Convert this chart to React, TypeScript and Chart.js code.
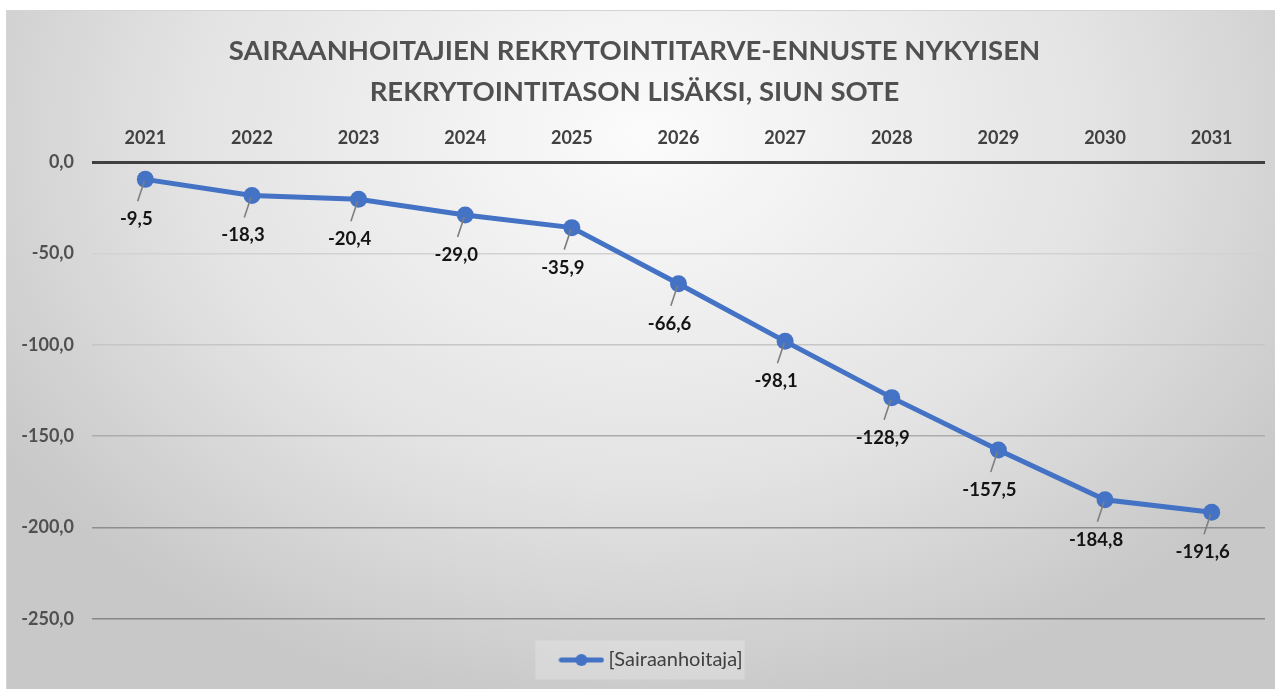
import React, { useEffect, useRef } from "react";
import { Chart, registerables } from "chart.js";

Chart.register(...registerables);

const titleLines = ["SAIRAANHOITAJIEN REKRYTOINTITARVE-ENNUSTE NYKYISEN", "REKRYTOINTITASON LISÄKSI, SIUN SOTE"];
const years = ["2021", "2022", "2023", "2024", "2025", "2026", "2027", "2028", "2029", "2030", "2031"];
const values = [-9.5, -18.3, -20.4, -29.0, -35.9, -66.6, -98.1, -128.9, -157.5, -184.8, -191.6];
const seriesName = "[Sairaanhoitaja]";
const yMin = -250;
const yMax = 0;
const yStep = 50;

const FONT = "Lato, 'Open Sans', sans-serif";
const BLUE = "#4472c4";

const fmt = (v: number) => v.toFixed(1).replace(".", ",");

function makeLegendMarker(): HTMLCanvasElement {
  const c = document.createElement("canvas");
  c.width = 46;
  c.height = 14;
  const g = c.getContext("2d")!;
  g.strokeStyle = BLUE;
  g.lineWidth = 5;
  g.lineCap = "round";
  g.beginPath();
  g.moveTo(3, 7);
  g.lineTo(43, 7);
  g.stroke();
  g.fillStyle = BLUE;
  g.beginPath();
  g.arc(23, 7, 6, 0, Math.PI * 2);
  g.fill();
  return c;
}

const titlePlugin = {
  id: "customTitle",
  afterDraw(chart: any) {
    const ctx = chart.ctx;
    ctx.save();
    ctx.fillStyle = "#505050";
    ctx.font = `bold 27.5px ${FONT}`;
    ctx.textAlign = "center";
    ctx.textBaseline = "middle";
    const cx = chart.width / 2 - 3;
    titleLines.forEach((line, i) => ctx.fillText(line, cx, 51 + i * 41));
    ctx.restore();
  },
};

const legendShiftPlugin = {
  id: "legendShift",
  afterLayout(chart: any) {
    const lg = chart.legend;
    if (!lg) return;
    lg.left += 21;
    lg.right += 21;
  },
};

const legendBoxPlugin = {
  id: "legendBox",
  beforeDraw(chart: any) {
    const lg = chart.legend;
    if (!lg || !lg.legendHitBoxes || !lg.legendHitBoxes.length) return;
    const hb = lg.legendHitBoxes[0];
    const ctx = chart.ctx;
    ctx.save();
    ctx.fillStyle = "rgba(255,255,255,0.22)";
    const cy = hb.top + hb.height / 2;
    ctx.fillRect(hb.left - 29, cy - 19.5, hb.width + 31, 39);
    ctx.restore();
  },
};

const dataLabelPlugin = {
  id: "dataLabels",
  afterDatasetsDraw(chart: any) {
    const ctx = chart.ctx;
    const meta = chart.getDatasetMeta(0);
    ctx.save();
    meta.data.forEach((pt: any, i: number) => {
      const x = pt.x;
      const y = pt.y;
      const dx = -9;
      const dy = 40;
      ctx.strokeStyle = "#7f7f7f";
      ctx.lineWidth = 1.6;
      ctx.beginPath();
      ctx.moveTo(x - 1, y + 2);
      ctx.lineTo(x + dx * 0.85, y + dy - 18);
      ctx.stroke();
      ctx.fillStyle = "#141414";
      ctx.font = `bold 18.5px ${FONT}`;
      ctx.textAlign = "center";
      ctx.textBaseline = "middle";
      ctx.fillText(fmt(values[i]), x + dx, y + dy);
    });
    ctx.restore();
  },
};

const gridColors: Record<string, string> = {
  "0": "#404040",
  "-50": "#d2d2d2",
  "-100": "#c6c6c6",
  "-150": "#acacac",
  "-200": "#8e8e8e",
  "-250": "#878787",
};

export default function App() {
  const ref = useRef<HTMLCanvasElement>(null);

  useEffect(() => {
    document.body.style.margin = "0";
    const marker = makeLegendMarker();
    const chart = new Chart(ref.current!, {
      type: "line",
      data: {
        labels: years,
        datasets: [
          {
            label: seriesName,
            data: values,
            borderColor: BLUE,
            backgroundColor: BLUE,
            borderWidth: 5,
            pointRadius: 8.5,
            pointBackgroundColor: BLUE,
            pointBorderColor: BLUE,
            pointBorderWidth: 0,
            tension: 0,
            pointStyle: "circle",
          },
        ],
      },
      options: {
        animation: false,
        responsive: false,
        layout: { padding: { left: 0, right: 10, top: 122, bottom: 9 } },
        plugins: {
          title: { display: false },
          tooltip: { enabled: false },
          legend: {
            position: "bottom",
            labels: {
              usePointStyle: true,
              pointStyleWidth: 34,
              boxHeight: 14,
              padding: 31,
              color: "#404040",
              font: { family: FONT, size: 20 },
              generateLabels: (c: any) => [
                {
                  text: seriesName,
                  pointStyle: marker,
                  fillStyle: BLUE,
                  strokeStyle: BLUE,
                  lineWidth: 0,
                  datasetIndex: 0,
                  fontColor: "#404040",
                },
              ],
            },
          },
        },
        scales: {
          x: {
            position: "top",
            offset: true,
            grid: { display: false, drawTicks: false, offset: true },
            border: { display: false },
            ticks: {
              color: "#404040",
              font: { family: FONT, size: 18, weight: "bold" },
              padding: 13,
            },
            afterFit: (s: any) => {
              s.height = 40;
            },
          },
          y: {
            min: yMin,
            max: yMax,
            grid: {
              drawTicks: false,
              color: (c: any) => gridColors[String(c.tick?.value)] || "#c8c8c8",
              lineWidth: (c: any) => (c.tick?.value === 0 ? 3 : 1.5),
            },
            border: { display: false },
            ticks: {
              stepSize: yStep,
              padding: 18,
              color: "#505050",
              font: { family: FONT, size: 18, weight: "bold" },
              callback: (v: any) => fmt(Number(v)),
            },
            afterFit: (s: any) => {
              s.width = 92;
            },
          },
        },
      },
      plugins: [legendShiftPlugin, titlePlugin, legendBoxPlugin, dataLabelPlugin],
    });
    return () => chart.destroy();
  }, []);

  return (
    <div style={{ position: "fixed", left: 0, top: 0, width: 1275, height: 689, overflow: "hidden", background: "#ffffff" }}>
      <div
        style={{
          position: "absolute",
          left: 6,
          top: 10,
          width: 1275,
          height: 685,
          borderTop: "1px solid #d4d4d4",
          borderLeft: "1px solid #d4d4d4",
          background: "radial-gradient(ellipse 60% 85% at 50% 18%, #fbfbfb 0%, #e3e3e3 60%, #c8c8c8 100%)",
        }}
      />
      <canvas ref={ref} width={1275} height={689} style={{ position: "absolute", left: 0, top: 0 }} />
    </div>
  );
}
